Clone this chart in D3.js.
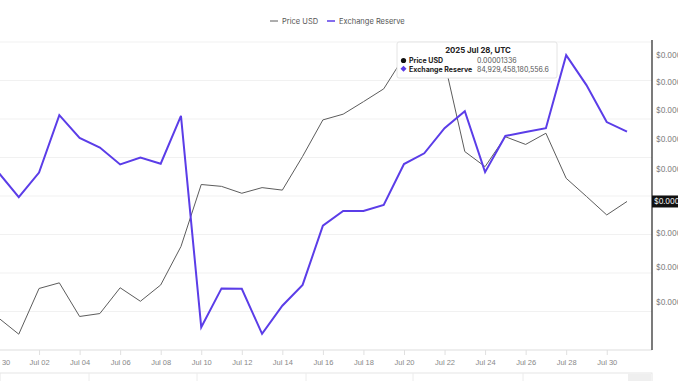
<!DOCTYPE html>
<html>
<head>
<meta charset="utf-8">
<script src="https://cdn.jsdelivr.net/npm/d3@7"></script>
<style>
  body { margin: 0; background: #fff; overflow: hidden; }
  svg { display: block; font-family: Inter, "Noto Sans", sans-serif; }
</style>
</head>
<body>
<svg id="chart" width="678" height="381"></svg>
<script>
// dates (daily)
const dates = ["2025-06-30","2025-07-01","2025-07-02","2025-07-03","2025-07-04","2025-07-05","2025-07-06","2025-07-07",
  "2025-07-08","2025-07-09","2025-07-10","2025-07-11","2025-07-12","2025-07-13","2025-07-14","2025-07-15",
  "2025-07-16","2025-07-17","2025-07-18","2025-07-19","2025-07-20","2025-07-21","2025-07-22","2025-07-23",
  "2025-07-24","2025-07-25","2025-07-26","2025-07-27","2025-07-28","2025-07-29","2025-07-30","2025-07-31"];

// Price USD
const priceUSD = [0.00001128, 0.00001106, 0.00001169, 0.00001177, 0.00001130, 0.00001134, 0.00001170, 0.00001151,
  0.00001174, 0.00001230, 0.00001326, 0.00001323, 0.00001312, 0.00001321, 0.00001317, 0.00001372,
  0.00001434, 0.00001444, 0.00001466, 0.00001489, 0.00001548, 0.00001561, 0.00001538, 0.00001380,
  0.00001355, 0.00001405, 0.00001392, 0.00001411, 0.00001336, 0.00001307, 0.00001278, 0.00001299];

// Exchange Reserve (trillions)
const reserveT = [81.88, 81.24, 81.88, 83.37, 82.78, 82.53, 82.09, 82.27,
  82.11, 83.35, 77.86, 78.87, 78.86, 77.69, 78.42, 78.96,
  80.50, 80.88, 80.88, 81.04, 82.10, 82.38, 83.03, 83.47,
  81.89, 82.83, 82.93, 83.03, 84.929458180556, 84.15, 83.19, 82.94];

const priceTicks = [0.0000115, 0.000012, 0.0000125, 0.000013, 0.0000135, 0.000014, 0.0000145, 0.000015, 0.0000155];
const reserveGrid = [77.27, 78.27, 79.27, 80.27, 81.27, 82.27, 83.27, 84.27, 85.27];
const lastPriceLabel = "$0.00001299";

const parse = d3.timeParse("%Y-%m-%d");
const data = dates.map((d, i) => ({ date: parse(d), price: priceUSD[i], reserve: reserveT[i] * 1e12 }));

const svg = d3.select("#chart");
const plotTop = 42, plotBottom = 350, axisX = 652;

const x = d3.scaleTime()
  .domain([parse("2025-06-30"), parse("2025-07-31")])
  .range([-1.5, 627]);

const yPrice = d3.scaleLog()
  .domain([1.085e-5, 1.576e-5])
  .range([plotBottom, plotTop]);

const yRes = d3.scaleLinear()
  .domain([77.27e12, 85.27e12])
  .range([plotBottom, plotTop]);

// grid
svg.append("g")
  .selectAll("line")
  .data(reserveGrid)
  .enter()
  .append("line")
  .attr("x1", 0)
  .attr("x2", axisX)
  .attr("y1", d => yRes(d * 1e12))
  .attr("y2", d => yRes(d * 1e12))
  .attr("stroke", "#f1f1f1")
  .attr("stroke-width", 1);

// x axis
const xAxis = d3.axisBottom(x)
  .tickValues(d3.timeDay.range(parse("2025-06-30"), parse("2025-08-01"), 2))
  .tickSize(5)
  .tickPadding(5)
  .tickFormat(d3.timeFormat("%b %d"));

const gx = svg.append("g")
  .attr("transform", `translate(0, ${plotBottom})`)
  .call(xAxis);
gx.select(".domain").attr("stroke", "#e4e4e4").attr("d", `M0,0H${axisX}`);
gx.selectAll(".tick line").attr("stroke", "#e0e0e0");
gx.selectAll(".tick text")
  .attr("fill", "#888")
  .style("font-size", "7.5px");

// navigator strip
svg.append("rect")
  .attr("x", 0).attr("y", 373).attr("width", axisX).attr("height", 12)
  .attr("fill", "#fff").attr("stroke", "#e6e6e6");
svg.append("rect")
  .attr("x", 628).attr("y", 373.5).attr("width", 23).attr("height", 10)
  .attr("fill", "#efefef");
svg.append("g")
  .selectAll("line")
  .data([89, 197, 306, 413, 523])
  .enter()
  .append("line")
  .attr("x1", d => d).attr("x2", d => d)
  .attr("y1", 373).attr("y2", 381)
  .attr("stroke", "#ececec");

// lines
svg.append("clipPath").attr("id", "clip")
  .append("rect").attr("x", 0).attr("y", 0).attr("width", axisX).attr("height", plotBottom);

const plot = svg.append("g").attr("clip-path", "url(#clip)");

plot.append("path")
  .datum(data)
  .attr("fill", "none")
  .attr("stroke", "#5c5c5c")
  .attr("stroke-width", 1)
  .attr("d", d3.line().x(d => x(d.date)).y(d => yPrice(d.price)));

plot.append("path")
  .datum(data)
  .attr("fill", "none")
  .attr("stroke", "#5b3de8")
  .attr("stroke-width", 2)
  .attr("d", d3.line().x(d => x(d.date)).y(d => yRes(d.reserve)));

// right axis
svg.append("line")
  .attr("x1", axisX).attr("x2", axisX)
  .attr("y1", 40).attr("y2", plotBottom)
  .attr("stroke", "#333")
  .attr("stroke-width", 1.3);

const last = data[data.length - 1];

// ticks hidden behind the last-price label are skipped
svg.append("g")
  .selectAll("text")
  .data(priceTicks.filter(d => Math.abs(yPrice(d) - yPrice(last.price)) > 8))
  .enter()
  .append("text")
  .attr("x", 656)
  .attr("y", d => yPrice(d))
  .attr("dy", "0.35em")
  .attr("fill", "#777")
  .style("font-size", "7.5px")
  .text(d => "$" + d.toFixed(7));

// last price label
svg.append("rect")
  .attr("x", axisX).attr("y", yPrice(last.price) - 6)
  .attr("width", 30).attr("height", 12)
  .attr("fill", "#111");
svg.append("text")
  .attr("x", 654).attr("y", yPrice(last.price))
  .attr("dy", "0.35em")
  .attr("fill", "#fff")
  .style("font-size", "7.5px")
  .text(lastPriceLabel);

// legend
const legend = svg.append("g").attr("transform", "translate(0, 21)");
[{ name: "Price USD", color: "#5c5c5c", x: 270 }, { name: "Exchange Reserve", color: "#5b3de8", x: 327 }]
  .forEach(l => {
    legend.append("line")
      .attr("x1", l.x).attr("x2", l.x + 8)
      .attr("stroke", l.color).attr("stroke-width", l.name == "Price USD" ? 1 : 1.5);
    legend.append("text")
      .attr("x", l.x + 12).attr("dy", "0.35em")
      .attr("fill", "#555")
      .style("font-size", "7.5px")
      .text(l.name);
  });

// tooltip
const hover = data[28];
const tip = svg.append("g").attr("transform", "translate(397, 42)");
tip.append("rect")
  .attr("width", 160).attr("height", 36).attr("rx", 2)
  .attr("fill", "#fff").attr("stroke", "#e4e4e4");
tip.append("text")
  .attr("x", 81).attr("y", 10.5)
  .attr("text-anchor", "middle")
  .attr("font-weight", "bold")
  .attr("fill", "#222")
  .style("font-size", "7.8px")
  .text(d3.timeFormat("%Y %b %d")(hover.date) + ", UTC");
tip.append("circle").attr("cx", 6.5).attr("cy", 18.5).attr("r", 2.6).attr("fill", "#111");
tip.append("path").attr("d", "M6.5,23.8 L9.5,26.8 L6.5,29.8 L3.5,26.8Z").attr("fill", "#5b3de8");
tip.append("text").attr("x", 12).attr("y", 21).attr("font-weight", "bold").attr("fill", "#222")
  .style("font-size", "7px").text("Price USD");
tip.append("text").attr("x", 12).attr("y", 29.5).attr("font-weight", "bold").attr("fill", "#222")
  .style("font-size", "7px").text("Exchange Reserve");
tip.append("text").attr("x", 80).attr("y", 21).attr("fill", "#555")
  .style("font-size", "7px").text(hover.price.toFixed(8));
tip.append("text").attr("x", 80).attr("y", 29.5).attr("fill", "#555")
  .style("font-size", "7px").text("84,929,458,180,556.6");
</script>
</body>
</html>
